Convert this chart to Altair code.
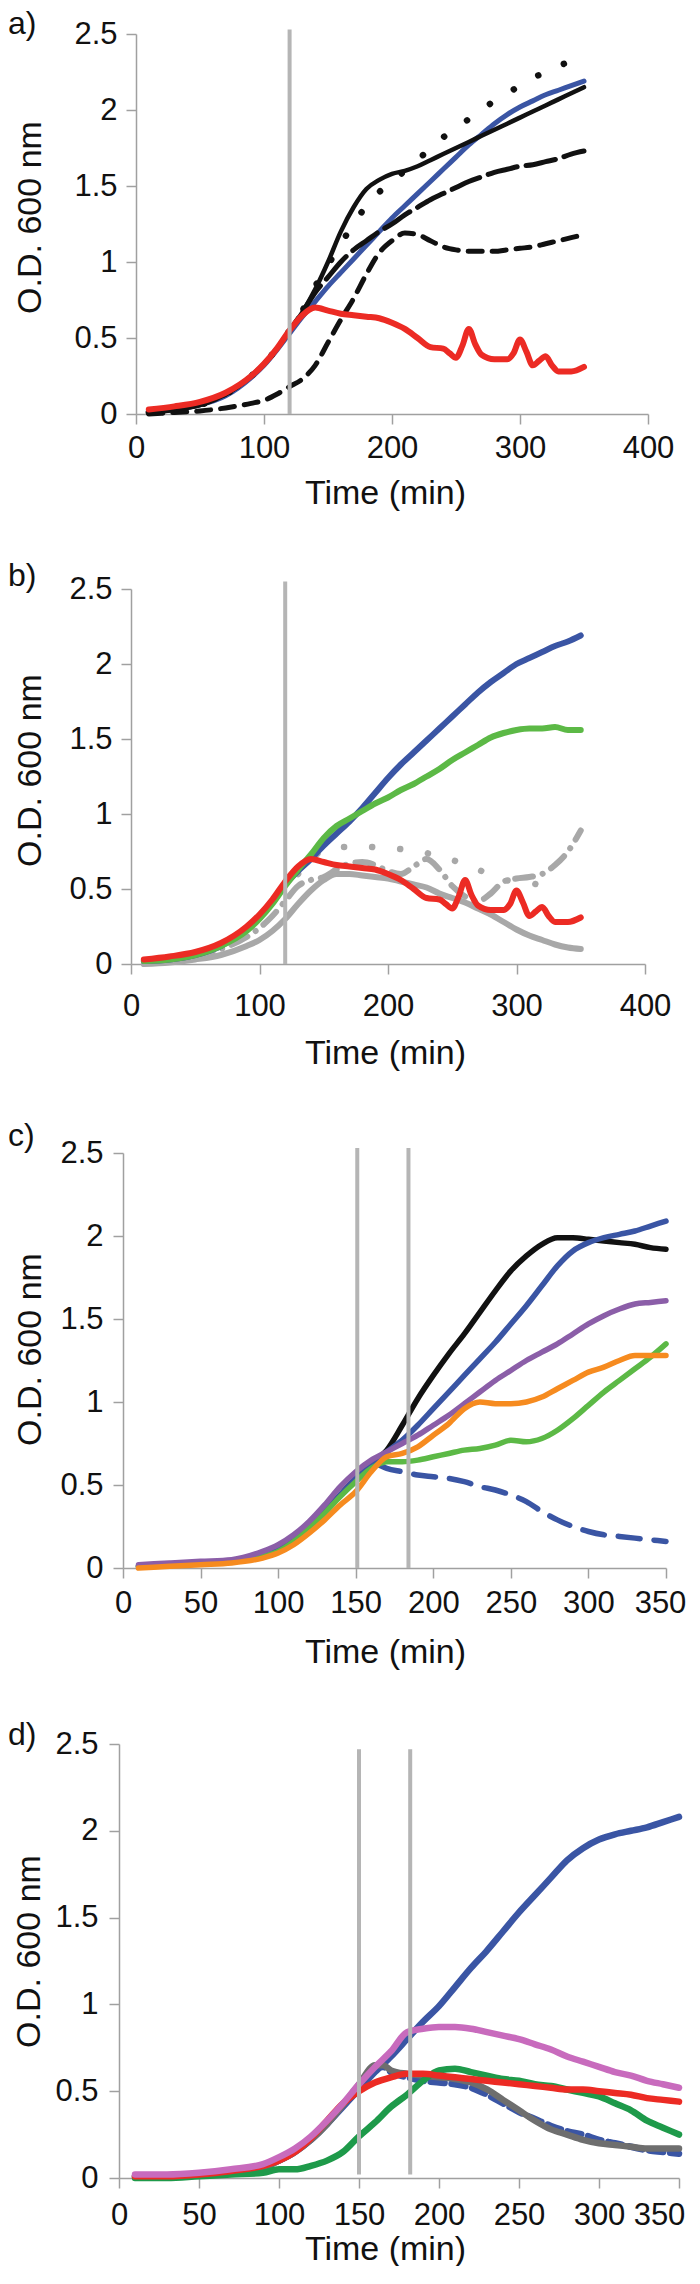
import altair as alt
import pandas as pd

FONT = "Liberation Sans"
Y_TICKS = [0, 0.5, 1, 1.5, 2, 2.5]

# ---------------- data: panel a ----------------
A_T = [10, 30, 50, 70, 90, 100, 110, 120, 130, 140, 150, 160, 170, 180, 190, 200,
       210, 220, 230, 240, 250, 260, 270, 280, 290, 300, 310, 320, 330, 340, 350]
A_BLUE = [0.02, 0.03, 0.06, 0.12, 0.24, 0.32, 0.42, 0.53, 0.64, 0.74, 0.84, 0.93, 1.02, 1.11, 1.20, 1.29,
          1.37, 1.45, 1.53, 1.61, 1.69, 1.77, 1.84, 1.91, 1.97, 2.02, 2.06, 2.10, 2.13, 2.16, 2.19]
A_BLACK = [0.01, 0.03, 0.06, 0.13, 0.25, 0.33, 0.43, 0.55, 0.67, 0.82, 1.00, 1.20, 1.36, 1.48, 1.54, 1.58,
           1.60, 1.63, 1.67, 1.71, 1.75, 1.79, 1.83, 1.87, 1.91, 1.95, 1.99, 2.03, 2.07, 2.11, 2.15]
A_LDASH = [0.01, 0.03, 0.06, 0.13, 0.25, 0.33, 0.43, 0.55, 0.67, 0.80, 0.90, 1.00, 1.08, 1.14, 1.20, 1.25,
           1.31, 1.36, 1.41, 1.45, 1.49, 1.53, 1.56, 1.59, 1.61, 1.63, 1.64, 1.66, 1.68, 1.71, 1.73]
A_SDASH = [0.00, 0.01, 0.02, 0.04, 0.07, 0.09, 0.13, 0.18, 0.23, 0.32, 0.47, 0.62, 0.76, 0.92, 1.06, 1.14,
           1.19, 1.18, 1.14, 1.10, 1.08, 1.07, 1.07, 1.07, 1.08, 1.09, 1.10, 1.12, 1.14, 1.16, 1.18]
A_DOT_T = [10, 30, 50, 70, 90, 100, 110, 120, 130, 140, 150, 160, 170, 180, 190, 200,
           210, 220, 230, 240, 250, 260, 270, 280, 290, 300, 310, 320, 330, 340]
A_DOT = [0.01, 0.03, 0.06, 0.13, 0.25, 0.33, 0.43, 0.55, 0.68, 0.84, 0.98, 1.12, 1.25, 1.37, 1.46, 1.53,
         1.60, 1.67, 1.75, 1.82, 1.88, 1.94, 2.00, 2.06, 2.11, 2.16, 2.21, 2.25, 2.29, 2.32]
A_RED_T = [10, 30, 50, 70, 90, 100, 110, 120, 130, 140, 150, 160, 170, 180, 190, 200, 210, 220, 230, 240,
           245, 250, 255, 260, 265, 270, 280, 290, 295, 300, 305, 310, 315, 320, 325, 330, 340, 350]
A_RED = [0.03, 0.05, 0.08, 0.14, 0.25, 0.33, 0.43, 0.55, 0.65, 0.70, 0.68, 0.66, 0.65, 0.64, 0.63, 0.60,
         0.56, 0.50, 0.44, 0.43, 0.40, 0.37, 0.45, 0.56, 0.46, 0.39, 0.36, 0.36, 0.40, 0.49, 0.41, 0.32,
         0.35, 0.38, 0.32, 0.28, 0.28, 0.31]
A_RULES = [120]

# ---------------- data: panel b ----------------
B_T = A_T
B_BLUE = [0.02, 0.03, 0.06, 0.12, 0.24, 0.32, 0.42, 0.53, 0.62, 0.70, 0.79, 0.87, 0.95, 1.04, 1.14, 1.24,
          1.33, 1.41, 1.49, 1.57, 1.65, 1.73, 1.81, 1.88, 1.94, 2.00, 2.04, 2.08, 2.12, 2.15, 2.19]
B_GREEN = [0.02, 0.03, 0.06, 0.12, 0.22, 0.30, 0.40, 0.52, 0.63, 0.73, 0.84, 0.92, 0.97, 1.02, 1.07, 1.11,
           1.16, 1.20, 1.25, 1.30, 1.36, 1.41, 1.46, 1.51, 1.54, 1.56, 1.57, 1.57, 1.58, 1.56, 1.56]
B_GRAY = [0.00, 0.01, 0.03, 0.06, 0.12, 0.16, 0.22, 0.30, 0.40, 0.49, 0.56, 0.60, 0.60, 0.59, 0.58, 0.57,
          0.55, 0.53, 0.51, 0.47, 0.44, 0.41, 0.37, 0.33, 0.28, 0.23, 0.19, 0.16, 0.13, 0.11, 0.10]
B_GDASH_T = [50, 70, 90, 100, 110, 120, 130, 140, 150, 160, 170, 180, 190, 200, 210, 220, 230, 240,
             250, 260, 270, 280, 290, 300, 310, 320, 330, 340, 350]
B_GDASH = [0.05, 0.10, 0.18, 0.24, 0.32, 0.42, 0.52, 0.56, 0.58, 0.63, 0.67, 0.68, 0.66, 0.62, 0.60, 0.65,
           0.70, 0.63, 0.52, 0.45, 0.42, 0.47, 0.55, 0.57, 0.58, 0.60, 0.66, 0.75, 0.89]
B_GDOT_T = [130, 140, 150, 160, 170, 185, 200, 218, 243, 265, 286, 310, 335]
B_GDOT = [0.60, 0.70, 0.76, 0.78, 0.78, 0.78, 0.77, 0.76, 0.71, 0.65, 0.57, 0.54, 0.50]
B_RULES = [120]

# ---------------- data: panel c ----------------
C_T = A_T
C_BLACK = [0.01, 0.02, 0.03, 0.04, 0.08, 0.11, 0.17, 0.25, 0.34, 0.44, 0.54, 0.63, 0.71, 0.86, 1.02, 1.16,
           1.29, 1.41, 1.54, 1.67, 1.79, 1.88, 1.95, 1.99, 1.99, 1.98, 1.97, 1.96, 1.95, 1.93, 1.92]
C_BLUE = [0.01, 0.02, 0.03, 0.04, 0.08, 0.11, 0.17, 0.25, 0.34, 0.44, 0.54, 0.63, 0.70, 0.77, 0.86, 0.96,
          1.06, 1.16, 1.26, 1.36, 1.47, 1.58, 1.70, 1.82, 1.91, 1.96, 1.99, 2.01, 2.03, 2.06, 2.09]
C_PURPLE = [0.02, 0.03, 0.04, 0.05, 0.10, 0.14, 0.20, 0.28, 0.38, 0.49, 0.58, 0.65, 0.70, 0.75, 0.80, 0.86,
            0.92, 0.99, 1.06, 1.13, 1.19, 1.25, 1.30, 1.35, 1.41, 1.47, 1.52, 1.56, 1.59, 1.60, 1.61]
C_ORANGE = [0.00, 0.01, 0.02, 0.03, 0.06, 0.09, 0.14, 0.21, 0.29, 0.38, 0.46, 0.58, 0.67, 0.69, 0.73, 0.80,
            0.87, 0.96, 1.00, 0.99, 0.99, 1.00, 1.03, 1.08, 1.13, 1.18, 1.21, 1.25, 1.28, 1.28, 1.28]
C_GREEN = [0.01, 0.02, 0.03, 0.04, 0.07, 0.10, 0.16, 0.24, 0.33, 0.43, 0.52, 0.60, 0.64, 0.64, 0.65, 0.67,
           0.69, 0.71, 0.72, 0.74, 0.77, 0.76, 0.78, 0.83, 0.90, 0.98, 1.06, 1.13, 1.20, 1.27, 1.35]
C_BDASH_T = [165, 170, 180, 190, 200, 210, 220, 230, 240, 250, 260, 270, 280, 290, 300, 310, 320, 330, 340, 350]
C_BDASH = [0.62, 0.60, 0.58, 0.56, 0.55, 0.54, 0.52, 0.49, 0.47, 0.44, 0.40, 0.34, 0.29, 0.25, 0.22, 0.20,
           0.19, 0.18, 0.17, 0.16]
C_RULES = [151, 184]

# ---------------- data: panel d ----------------
D_T = A_T
D_BLUE = [0.01, 0.01, 0.02, 0.03, 0.06, 0.10, 0.15, 0.22, 0.31, 0.41, 0.51, 0.61, 0.70, 0.80, 0.90, 0.99,
          1.10, 1.21, 1.31, 1.42, 1.53, 1.63, 1.73, 1.83, 1.90, 1.95, 1.98, 2.00, 2.02, 2.05, 2.08]
D_PINK = [0.02, 0.02, 0.03, 0.05, 0.08, 0.12, 0.17, 0.24, 0.33, 0.43, 0.54, 0.64, 0.73, 0.84, 0.86, 0.87,
          0.87, 0.86, 0.84, 0.82, 0.80, 0.77, 0.74, 0.70, 0.67, 0.64, 0.61, 0.59, 0.56, 0.54, 0.52]
D_GRAY_T = [10, 30, 50, 70, 90, 100, 110, 120, 130, 140, 150, 160, 165, 170, 180, 190, 200, 210, 220, 230,
            240, 250, 260, 270, 280, 290, 300, 310, 320, 330, 340, 350]
D_GRAY = [0.01, 0.01, 0.02, 0.03, 0.06, 0.10, 0.15, 0.22, 0.31, 0.42, 0.54, 0.65, 0.65, 0.62, 0.60, 0.59,
          0.58, 0.57, 0.55, 0.51, 0.45, 0.39, 0.33, 0.28, 0.25, 0.22, 0.20, 0.19, 0.18, 0.17, 0.17, 0.17]
D_BDASH_T = [150, 160, 165, 170, 180, 190, 200, 210, 220, 230, 240, 250, 260, 270, 280, 290, 300, 310,
             320, 330, 340, 350]
D_BDASH = [0.52, 0.63, 0.64, 0.61, 0.58, 0.56, 0.55, 0.54, 0.52, 0.48, 0.43, 0.38, 0.34, 0.30, 0.27, 0.25,
           0.22, 0.20, 0.18, 0.16, 0.15, 0.14]
D_RED = [0.01, 0.01, 0.02, 0.04, 0.07, 0.10, 0.15, 0.23, 0.33, 0.43, 0.50, 0.55, 0.58, 0.60, 0.60, 0.59,
         0.58, 0.57, 0.56, 0.55, 0.54, 0.53, 0.52, 0.51, 0.51, 0.50, 0.49, 0.48, 0.46, 0.45, 0.44]
D_GREEN = [0.00, 0.00, 0.01, 0.02, 0.03, 0.05, 0.05, 0.07, 0.10, 0.15, 0.24, 0.32, 0.41, 0.48, 0.56, 0.62,
           0.63, 0.61, 0.59, 0.57, 0.56, 0.54, 0.53, 0.51, 0.49, 0.47, 0.43, 0.39, 0.33, 0.29, 0.25]
D_RULES = [150, 182]

# ---------------- colours ----------------
BLUE = "#3a55a4"
RED = "#ec2b24"
GREEN = "#5cb946"
ORANGE = "#f68b1f"
PURPLE = "#8b5ea8"
LGRAY = "#a8a8a8"
PINK = "#c86bbd"
DGREEN = "#1e9a4a"
DGRAY = "#6e6e6e"
BLACK = "#111111"
RULE = "#b5b5b5"


def enc_x(xmax, xstep, x0, x1, lab_pad, title_pad, last_shift=0):
    lab_off = {"condition": {"test": "datum.value == %d" % xmax, "value": last_shift}, "value": 0}
    return alt.X("t:Q", scale=alt.Scale(domain=[0, xmax], range=[x0, x1], nice=False, zero=False),
                 axis=alt.Axis(values=list(range(0, xmax + 1, xstep)), format="d",
                               title="Time (min)", labelPadding=lab_pad, titlePadding=title_pad,
                               labelOffset=lab_off, titleX=266))


def enc_y(lab_pad, title_pad, shift, title_y):
    return alt.Y("od:Q", scale=alt.Scale(domain=[0, 2.5], nice=False),
                 axis=alt.Axis(values=Y_TICKS, format="~g", title="O.D. 600 nm",
                               labelPadding=lab_pad, titlePadding=title_pad, offset=-shift,
                               titleY=title_y))


def line(t, od, color, width, x, y, dash=None):
    kw = dict(color=color, strokeWidth=width, interpolate="monotone",
              strokeCap="round", strokeJoin="round")
    if dash:
        kw["strokeDash"] = dash
    return alt.Chart(pd.DataFrame({"t": t, "od": od})).mark_line(**kw).encode(x=x, y=y)


def rules(ts, bot, top, x, y):
    df = pd.DataFrame({"t": ts, "od": [bot] * len(ts), "od2": [top] * len(ts)})
    return alt.Chart(df).mark_rule(color=RULE, strokeWidth=4).encode(x=x, y=y, y2="od2:Q")


def tag(text, ly):
    return alt.Chart(pd.DataFrame({"k": [0]})).mark_text(
        text=text, align="left", baseline="top", fontSize=32, font=FONT, color=BLACK
    ).encode(x=alt.value(-111), y=alt.value(ly))


# ---------------- panel a ----------------
xa = enc_x(400, 100, 17, 529, 9, 13)
ya = enc_y(9, 26, 17, 183)
panel_a = alt.layer(
    line(A_T, A_BLUE, BLUE, 5, xa, ya),
    line(A_T, A_LDASH, BLACK, 5, xa, ya, [30, 9]),
    line(A_T, A_SDASH, BLACK, 5, xa, ya, [14, 10]),
    line(A_DOT_T, A_DOT, BLACK, 6.5, xa, ya, [0.1, 28]),
    line(A_T, A_BLACK, BLACK, 4.5, xa, ya),
    line(A_RED_T, A_RED, RED, 6, xa, ya),
    rules(A_RULES, 0, 2.53, xa, ya),
    tag("a)", -25),
).properties(width=529, height=380)

# ---------------- panel b ----------------
xb = enc_x(400, 100, 12, 526, 17, 15)
yb = enc_y(9, 21, 12, 181)
panel_b = alt.layer(
    line(B_T, B_GRAY, LGRAY, 6, xb, yb),
    line(B_GDASH_T, B_GDASH, LGRAY, 6, xb, yb, [18, 10, 0.1, 10]),
    line(B_GDOT_T, B_GDOT, LGRAY, 6.5, xb, yb, [0.1, 28]),
    line(B_T, B_BLUE, BLUE, 6, xb, yb),
    line(B_T, B_GREEN, GREEN, 6, xb, yb),
    line(A_RED_T, A_RED, RED, 6, xb, yb),
    rules(B_RULES, 0, 2.55, xb, yb),
    tag("b)", -28),
).properties(width=526, height=375)

# ---------------- panel c ----------------
xc = enc_x(350, 50, 4, 547, 10, 17, -6)
yc = enc_y(10, 12, 4, 196)
panel_c = alt.layer(
    line(C_BDASH_T, C_BDASH, BLUE, 5.5, xc, yc, [22, 14]),
    line(C_T, C_BLACK, BLACK, 5.5, xc, yc),
    line(C_T, C_BLUE, BLUE, 5.5, xc, yc),
    line(C_T, C_GREEN, GREEN, 5.5, xc, yc),
    line(C_T, C_PURPLE, PURPLE, 5.5, xc, yc),
    line(C_T, C_ORANGE, ORANGE, 5.5, xc, yc),
    rules(C_RULES, 0, 2.53, xc, yc),
    tag("c)", -32),
).properties(width=547, height=415)

# ---------------- panel d ----------------
xd = enc_x(350, 50, 0, 560, 12, 2, -20)
yd = enc_y(11, 8, 0, 207)
panel_d = alt.layer(
    line(D_T, D_BLUE, BLUE, 6.5, xd, yd),
    line(D_BDASH_T, D_BDASH, BLUE, 6.5, xd, yd, [14, 7]),
    line(D_GRAY_T, D_GRAY, DGRAY, 6.5, xd, yd),
    line(D_T, D_GREEN, DGREEN, 6.5, xd, yd),
    line(D_T, D_RED, RED, 6.5, xd, yd),
    line(D_T, D_PINK, PINK, 6.5, xd, yd),
    rules(D_RULES, 0.02, 2.47, xd, yd),
    tag("d)", -24),
).properties(width=560, height=434)

chart = alt.vconcat(
    panel_a, panel_b, panel_c, panel_d, spacing=50, padding=0,
).configure_view(
    stroke=None
).configure_axis(
    domainColor="#a0a0a0", domainWidth=1.5, tickColor="#a0a0a0", tickWidth=1.5, tickSize=10,
    labelFont=FONT, labelFontSize=31, labelColor=BLACK, titleFont=FONT, titleFontSize=34,
    titleFontWeight="normal", titleColor=BLACK, grid=False, labelFlush=False, labelOverlap=False,
)

chart.save("out.html", embed_options={"renderer": "svg", "actions": False})
